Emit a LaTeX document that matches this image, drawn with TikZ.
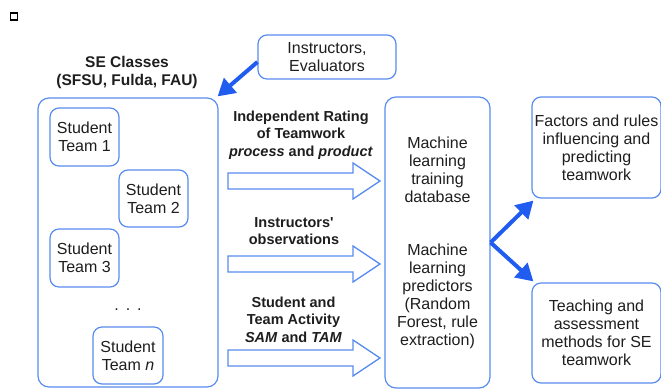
\documentclass[tikz,border=0pt]{standalone}
\usepackage{fontspec}
\setmainfont{Liberation Sans}
\usetikzlibrary{arrows.meta}
\definecolor{boxblue}{RGB}{88,140,240}
\definecolor{arrblue}{RGB}{32,92,240}
\definecolor{txt}{RGB}{30,30,30}
\tikzset{
  rbox/.style={draw=boxblue, line width=1.2pt, rounded corners=9pt, fill=white, text=txt, align=center, inner sep=0pt, font=\fontsize{16}{18}\selectfont},
  lbl/.style={text=txt, align=center, inner sep=0pt, font=\fontsize{16}{18}\selectfont},
  blbl/.style={text=txt, align=center, inner sep=0pt, font=\bfseries\fontsize{14.5}{17.5}\selectfont},
  bigarrow/.style={-{Triangle[length=17pt,width=19pt]}, draw=arrblue, line width=4pt},
  blockarr/.style={draw=boxblue, line width=1.3pt, fill=white, line join=miter},
}
\begin{document}
\begin{tikzpicture}[x=1pt,y=-1pt]
\useasboundingbox (0,0) rectangle (661,389);
% small square
\node[draw=black, line width=1.8pt, minimum width=7pt, minimum height=6.5pt, inner sep=0pt] (sq) at (14,16.5) {};
% left group
\node[blbl, font=\bfseries\fontsize{15.5}{18}\selectfont] (se) at (127,72) {SE Classes\\(SFSU, Fulda, FAU)};
\node[rbox, rounded corners=11pt, minimum width=180pt, minimum height=289pt] (left) at (128,242.5) {};
\node[rbox, minimum width=69pt, minimum height=58pt] (t1) at (84.5,137) {Student\\Team 1};
\node[rbox, minimum width=69pt, minimum height=57pt] (t2) at (153.5,198.5) {Student\\Team 2};
\node[rbox, minimum width=69pt, minimum height=58pt] (t3) at (84.5,258) {Student\\Team 3};
\node[lbl] (dots) at (128,310) {.\hspace{7pt}.\hspace{7pt}.};
\node[rbox, minimum width=70pt, minimum height=57pt] (tn) at (128,355.5) {Student\\Team \textit{n}};
% instructors
\node[rbox, minimum width=138pt, minimum height=44pt] (instr) at (327,57) {Instructors,\\Evaluators};
% ML box
\node[rbox, rounded corners=11pt, minimum width=105pt, minimum height=291pt] (ml) at (437.5,242.5) {};
\node[lbl] (mltop) at (437.5,169.5) {Machine\\learning\\training\\database};
\node[lbl] (mlbot) at (437.5,296.5) {Machine\\learning\\predictors\\(Random\\Forest, rule\\extraction)};
% outputs
\node[rbox, minimum width=129pt, minimum height=101pt] (fac) at (596.5,147.5) {Factors and rules\\influencing and\\predicting\\teamwork};
\node[rbox, minimum width=129pt, minimum height=100pt] (teach) at (596.5,333) {Teaching and\\assessment\\methods for SE\\teamwork};
% labels over block arrows
\node[blbl] (l1) at (301,135) {Independent Rating\\of Teamwork\\\textit{process} and \textit{product}};
\node[blbl] (l2) at (294,231) {Instructors\textquotesingle\\observations};
\node[blbl] (l3) at (293.5,319.5) {Student and\\Team Activity\\\textit{SAM} and \textit{TAM}};
% block arrows
\foreach \yc/\nm in {181/a1,264/a2,358/a3}{
  \coordinate (\nm s) at (228,\yc);
  \draw[blockarr] (\nm s) ++(0,-8) -- ++(125,0) -- ++(0,-10) -- (380,\yc) -- (353,\yc+18) -- ++(0,-10) -- ++(-125,0) -- cycle;
}
% thick arrows
\draw[bigarrow] ([yshift=-5pt]instr.west) -- ([xshift=-1pt,yshift=1pt]left.north east);
\draw[bigarrow] (ml.east) -- ([xshift=2pt,yshift=-2pt]fac.south west);
\draw[bigarrow] (ml.east) -- ([xshift=2pt,yshift=1pt]teach.north west);
\end{tikzpicture}
\end{document}
